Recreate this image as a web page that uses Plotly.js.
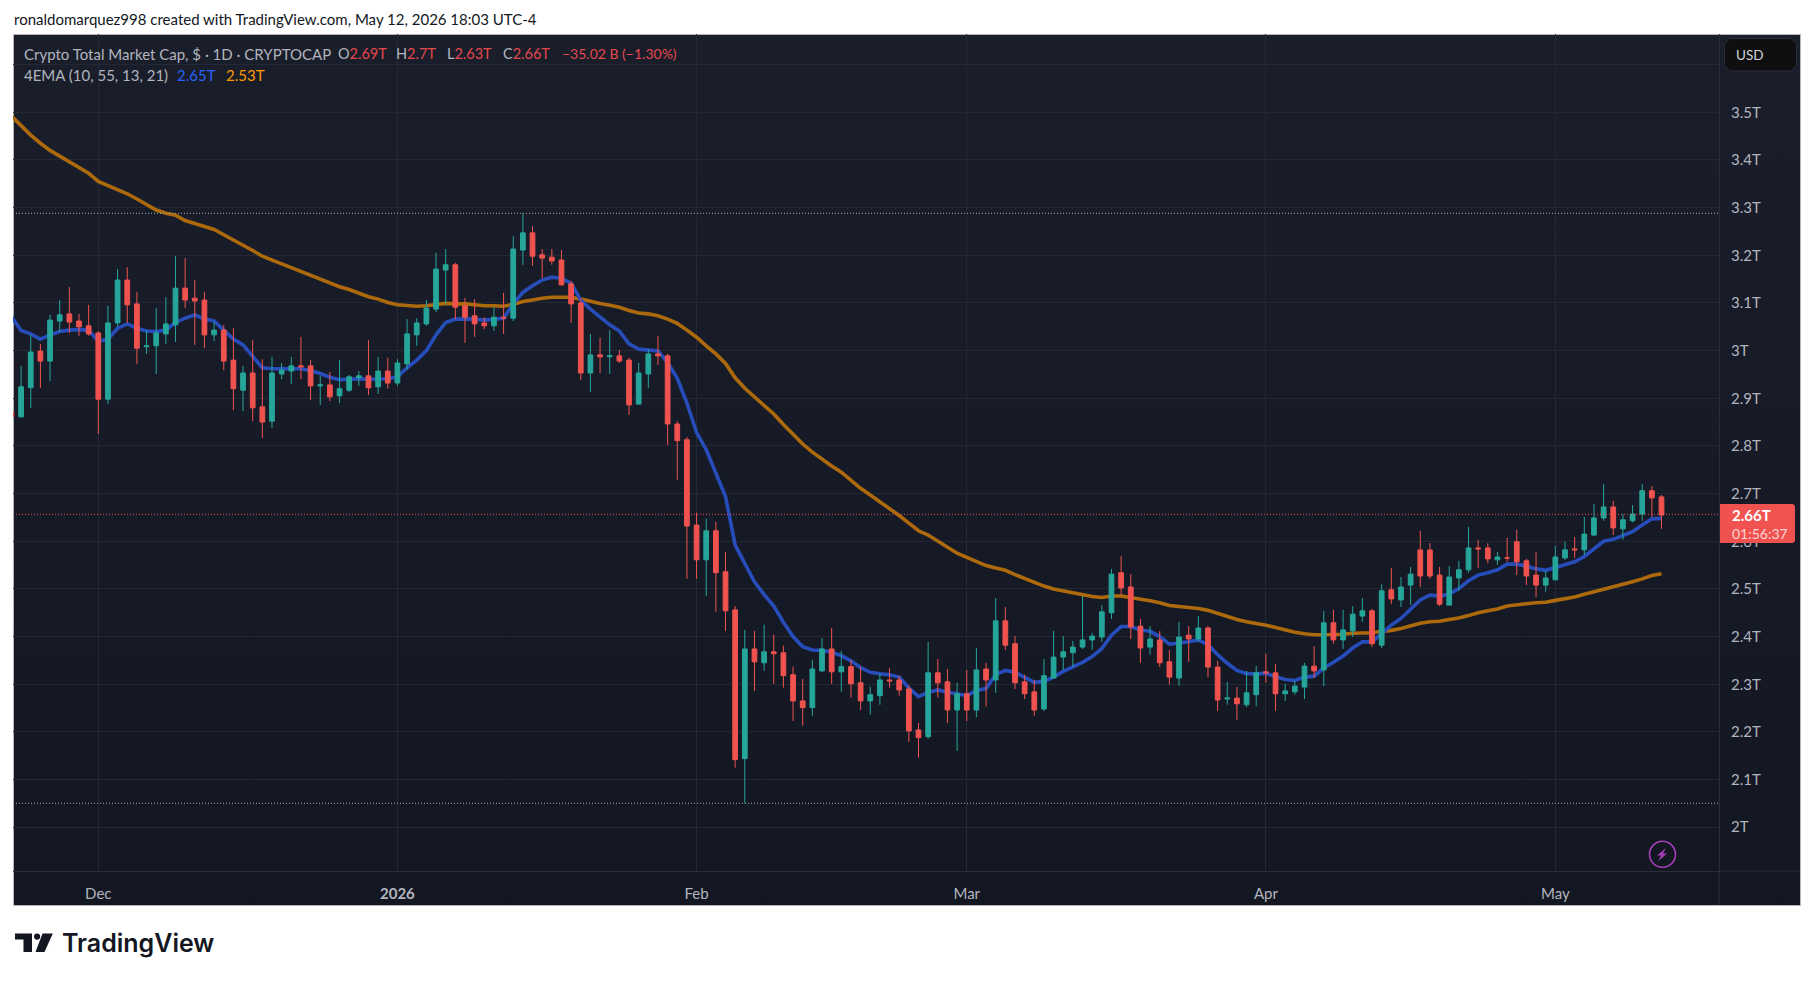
<!DOCTYPE html>
<html>
<head>
<meta charset="utf-8">
<script src="https://cdn.plot.ly/plotly-3.0.1.min.js"></script>
<style>
html,body{margin:0;padding:0;background:#fff;width:1814px;height:981px;overflow:hidden}
#bg{position:absolute;left:13px;top:34px;width:1788px;height:872px;box-sizing:border-box;border:1px solid #b4b5b8;background:linear-gradient(#1a1e2b,#131722)}
#chart{position:absolute;left:0;top:0;width:1814px;height:981px}
</style>
</head>
<body>
<div id="bg"></div>
<div id="chart"></div>
<script>
const firstDay = '2025-11-22';
const opens = [2.871,2.861,2.922,2.999,2.978,3.062,3.077,3.062,3.052,
3.037,2.898,3.058,3.148,3.098,3.008,3.010,3.035,3.054,3.131,3.110,3.106,3.033,3.043,2.980,2.917,2.953,2.882,2.852,2.951,2.957,2.968,2.968,2.926,2.928,2.905,2.917,2.943,2.947,2.924,2.957,
2.932,2.972,3.033,3.056,3.087,3.169,3.180,3.094,3.073,3.058,3.052,3.070,3.068,3.211,3.247,3.201,3.196,3.190,3.140,3.100,2.953,2.991,2.987,2.989,2.980,2.888,2.951,2.993,2.989,2.846,2.813,
2.634,2.561,2.622,2.536,2.456,2.144,2.374,2.345,2.368,2.366,2.320,2.265,2.251,2.328,2.374,2.326,2.337,2.303,2.265,2.276,2.309,2.309,2.290,2.204,2.190,2.324,2.305,2.246,
2.280,2.246,2.332,2.309,2.433,2.385,2.305,2.284,2.248,2.313,2.357,2.366,2.378,2.393,2.399,2.450,2.534,2.504,2.422,2.378,2.393,2.347,2.313,2.403,2.395,2.418,2.336,2.269,2.271,2.257,2.278,
2.326,2.324,2.280,2.284,2.294,2.338,2.330,2.429,2.393,2.412,2.443,2.454,2.382,2.498,2.477,2.508,2.5817,2.5817,2.529,2.466,2.523,2.540,2.586,2.586,2.561,2.565,2.599,2.559,2.529,2.508,
2.519,2.565,2.584,2.582,2.613,2.649,2.672,2.626,2.643,2.657,2.706,2.693];
const highs = [2.878,2.968,3.033,3.014,3.075,3.106,3.133,3.077,3.096,
3.041,3.094,3.171,3.175,3.123,3.043,3.089,3.112,3.198,3.194,3.148,3.123,3.060,3.054,3.047,2.968,3.022,2.982,2.987,2.974,2.987,3.029,2.980,2.947,2.955,2.980,2.949,2.957,3.022,2.987,2.985,
2.982,3.066,3.068,3.106,3.205,3.213,3.184,3.110,3.108,3.070,3.091,3.121,3.240,3.288,3.261,3.213,3.213,3.211,3.146,3.110,3.035,3.027,3.043,3.001,2.985,2.974,3.003,3.031,2.993,2.852,2.819,
2.660,2.647,2.641,2.578,2.464,2.414,2.412,2.425,2.404,2.381,2.337,2.311,2.351,2.397,2.418,2.370,2.351,2.337,2.295,2.322,2.334,2.318,2.297,2.219,2.389,2.353,2.332,2.303,
2.330,2.376,2.345,2.481,2.462,2.401,2.320,2.309,2.353,2.412,2.401,2.391,2.485,2.408,2.466,2.542,2.569,2.531,2.437,2.422,2.412,2.372,2.431,2.422,2.443,2.422,2.349,2.305,2.294,2.328,2.338,
2.364,2.343,2.301,2.307,2.345,2.380,2.454,2.456,2.456,2.464,2.481,2.458,2.510,2.544,2.525,2.546,2.622,2.596,2.546,2.548,2.559,2.630,2.603,2.596,2.578,2.607,2.624,2.563,2.578,2.538,
2.590,2.599,2.609,2.651,2.678,2.720,2.685,2.657,2.676,2.720,2.716,2.697];
const lows = [2.857,2.859,2.880,2.922,2.936,3.039,3.037,3.031,3.031,
2.825,2.888,3.050,3.058,2.972,2.993,2.951,3.014,3.018,3.089,3.012,3.005,3.020,2.959,2.875,2.873,2.852,2.817,2.838,2.940,2.930,2.940,2.896,2.886,2.894,2.890,2.913,2.926,2.907,2.909,2.920,
2.926,2.959,3.010,3.052,3.081,3.096,3.066,3.016,3.029,3.045,3.041,3.035,3.062,3.180,3.178,3.152,3.180,3.136,3.058,2.938,2.913,2.953,2.951,2.974,2.865,2.886,2.922,2.970,2.802,2.729,2.521,
2.521,2.485,2.452,2.412,2.125,2.050,2.286,2.328,2.301,2.293,2.223,2.213,2.234,2.326,2.301,2.284,2.272,2.246,2.236,2.257,2.293,2.276,2.179,2.146,2.186,2.272,2.219,2.160,
2.223,2.231,2.253,2.282,2.372,2.290,2.269,2.234,2.244,2.313,2.330,2.336,2.374,2.372,2.389,2.437,2.487,2.395,2.345,2.362,2.336,2.299,2.297,2.347,2.389,2.315,2.244,2.257,2.225,2.252,2.254,
2.303,2.244,2.265,2.278,2.269,2.313,2.296,2.385,2.374,2.399,2.431,2.378,2.376,2.468,2.462,2.466,2.504,2.521,2.464,2.466,2.496,2.534,2.544,2.554,2.550,2.557,2.529,2.508,2.483,2.494,
2.519,2.561,2.565,2.571,2.611,2.643,2.613,2.603,2.640,2.643,2.651,2.626];
const closes = [2.861,2.924,2.997,2.978,3.064,3.075,3.060,3.050,3.035,
2.898,3.058,3.148,3.096,3.005,3.010,3.037,3.056,3.131,3.106,3.104,3.033,3.043,2.978,2.920,2.953,2.880,2.850,2.953,2.959,2.968,2.966,2.926,2.928,2.903,2.920,2.945,2.947,2.922,2.957,2.932,
2.974,3.035,3.058,3.089,3.171,3.180,3.091,3.070,3.056,3.052,3.070,3.068,3.213,3.247,3.198,3.194,3.188,3.138,3.098,2.953,2.991,2.987,2.989,2.978,2.886,2.953,2.993,2.989,2.846,2.811,2.632,
2.561,2.622,2.534,2.454,2.142,2.374,2.347,2.368,2.364,2.318,2.265,2.251,2.332,2.374,2.326,2.337,2.301,2.265,2.278,2.309,2.307,2.288,2.202,2.188,2.324,2.303,2.246,2.280,
2.246,2.330,2.309,2.433,2.382,2.303,2.280,2.246,2.318,2.357,2.368,2.378,2.393,2.401,2.452,2.531,2.502,2.420,2.376,2.395,2.345,2.315,2.399,2.395,2.418,2.336,2.267,2.271,2.259,2.282,2.324,
2.324,2.280,2.286,2.296,2.338,2.328,2.429,2.393,2.414,2.447,2.454,2.385,2.496,2.479,2.504,2.531,2.527,2.527,2.468,2.525,2.540,2.586,2.584,2.563,2.567,2.565,2.557,2.527,2.508,2.523,
2.567,2.582,2.582,2.615,2.649,2.672,2.628,2.645,2.657,2.706,2.691,2.655];
const ema10 = [3.071,3.042,3.035,3.024,3.033,3.040,3.043,3.044,3.043,
3.019,3.024,3.047,3.056,3.047,3.041,3.040,3.043,3.059,3.068,3.075,3.066,3.062,3.043,3.024,3.012,2.989,2.964,2.962,2.962,2.963,2.962,2.958,2.952,2.944,2.939,2.940,2.941,2.940,2.940,2.941,
2.945,2.964,2.980,3.000,3.033,3.059,3.066,3.066,3.066,3.064,3.066,3.068,3.098,3.122,3.136,3.148,3.154,3.152,3.141,3.106,3.087,3.070,3.054,3.041,3.014,3.003,3.001,2.999,2.975,2.942,2.890,
2.828,2.792,2.743,2.694,2.592,2.553,2.515,2.488,2.464,2.430,2.400,2.379,2.372,2.371,2.367,2.360,2.349,2.335,2.325,2.322,2.320,2.315,2.292,2.274,2.283,2.288,2.283,2.280,
2.276,2.287,2.291,2.320,2.329,2.325,2.315,2.304,2.306,2.315,2.327,2.336,2.346,2.358,2.375,2.403,2.421,2.421,2.414,2.411,2.400,2.384,2.386,2.389,2.393,2.383,2.362,2.344,2.329,2.322,2.322,
2.323,2.316,2.310,2.308,2.315,2.317,2.334,2.346,2.359,2.376,2.389,2.389,2.407,2.424,2.438,2.457,2.477,2.487,2.485,2.489,2.501,2.517,2.529,2.534,2.540,2.552,2.552,2.548,2.542,2.539,
2.545,2.552,2.557,2.568,2.585,2.600,2.604,2.611,2.620,2.634,2.647,2.648];
const ema55 = [3.492,3.471,3.452,3.435,3.420,3.408,3.396,3.384,3.372,
3.355,3.346,3.339,3.329,3.318,3.307,3.295,3.288,3.284,3.273,3.267,3.261,3.254,3.243,3.232,3.223,3.210,3.198,3.189,3.182,3.174,3.166,3.158,3.150,3.140,3.134,3.128,3.120,3.113,3.108,3.101,
3.096,3.094,3.093,3.094,3.096,3.099,3.098,3.098,3.096,3.094,3.094,3.093,3.097,3.103,3.106,3.110,3.112,3.112,3.112,3.108,3.103,3.099,3.095,3.091,3.084,3.079,3.077,3.073,3.066,3.057,3.043,
3.028,3.010,2.993,2.973,2.943,2.921,2.903,2.885,2.867,2.845,2.824,2.804,2.787,2.772,2.758,2.745,2.727,2.711,2.697,2.683,2.667,2.654,2.638,2.622,2.613,2.600,2.586,2.575,
2.566,2.557,2.549,2.544,2.539,2.530,2.522,2.513,2.506,2.500,2.496,2.492,2.487,2.484,2.482,2.485,2.485,2.482,2.479,2.475,2.471,2.465,2.463,2.461,2.459,2.455,2.448,2.442,2.436,2.431,2.428,
2.424,2.419,2.414,2.409,2.406,2.404,2.404,2.404,2.405,2.407,2.408,2.408,2.411,2.413,2.417,2.422,2.428,2.431,2.432,2.436,2.439,2.444,2.450,2.454,2.458,2.464,2.467,2.469,2.471,2.472,
2.476,2.480,2.483,2.489,2.494,2.500,2.504,2.509,2.515,2.521,2.528,2.532];
const yTickVals = [2,2.1,2.2,2.3,2.4,2.5,2.6,2.7,2.8,2.9,3,3.1,3.2,3.3,3.4,3.5,3.6];
const yTickText = ['2T','2.1T','2.2T','2.3T','2.4T','2.5T','2.6T','2.7T','2.8T','2.9T','3T','3.1T','3.2T','3.3T','3.4T','3.5T',''];
const xTickVals = ['2025-12-01','2026-01-01','2026-02-01','2026-03-01','2026-04-01','2026-05-01'];
const xTickText = ['Dec','<b>2026</b>','Feb','Mar','Apr','May'];
const periodHigh = 3.288, periodLow = 2.0503, lastPrice = 2.6566;

const dates = opens.map((_, i) => {
  const d = new Date(firstDay + 'T00:00:00Z');
  d.setUTCDate(d.getUTCDate() + i);
  return d.toISOString().slice(0, 10);
});

const FONT = 'Lato, "Noto Sans", sans-serif';
const UP = '#26a69a', DOWN = '#f0534f', TXT = '#b2b5be';
const PX0 = 13, PX1 = 1719, PY0 = 34, PY1 = 871;
const X = p => (p - PX0) / (PX1 - PX0);
const Y = p => (PY1 - p) / (PY1 - PY0);
const yRange = [1.9082, 3.6642];

function poly(points, close) {
  return points.map((p, i) => (i ? 'L' : 'M') + X(p[0]).toFixed(5) + ',' + Y(p[1]).toFixed(5)).join(' ') + (close ? ' Z' : '');
}
function label(x, y, text, size, color, extra) {
  return Object.assign({xref:'paper', yref:'paper', x:X(x), y:Y(y), text:text, showarrow:false, xanchor:'left', yanchor:'middle',
    borderpad:0, font:{family:FONT, size:size, color:color}}, extra || {});
}
const red = '#e5484d';
const annotations = [
  label(13, 19, 'ronaldomarquez998 created with TradingView.com, May 12, 2026 18:03 UTC-4', 15, '#131722'),
  label(23, 54, 'Crypto Total Market Cap, $ · 1D · CRYPTOCAP', 15, TXT),
  label(337, 54, `O<span style="color:${red}">2.69T</span>`, 14.5, TXT),
  label(395, 54, `H<span style="color:${red}">2.7T</span>`, 14.5, TXT),
  label(446, 54, `L<span style="color:${red}">2.63T</span>`, 14.5, TXT),
  label(502, 54, `C<span style="color:${red}">2.66T</span>`, 14.5, TXT),
  label(561, 54, '−35.02 B (−1.30%)', 14, red),
  label(23, 75, '4EMA (10, 55, 13, 21)', 15, TXT),
  label(176, 75, '2.65T', 15, '#2962ff'),
  label(225, 75, '2.53T', 15, '#ff9800'),
  label(1735, 55, 'USD', 13.5, '#d1d4dc'),
  label(1731, 514.5, '<b>2.66T</b>', 15, '#ffffff'),
  label(1731, 533, '01:56:37', 14, 'rgba(255,255,255,0.75)'),
  {xref:'paper', yref:'paper', x:X(61), y:Y(943), text:'TradingView', showarrow:false, xanchor:'left', yanchor:'middle', borderpad:0,
   font:{family:'Inter, sans-serif', size:25, color:'#131722', weight:600}}
];

const shapes = [
  {type:'line', xref:'paper', yref:'y', x0:0, x1:X(1718), y0:periodHigh, y1:periodHigh, layer:'above', line:{color:'#a9abb2', width:1, dash:'1px,2px'}},
  {type:'line', xref:'paper', yref:'y', x0:0, x1:X(1718), y0:periodLow, y1:periodLow, layer:'above', line:{color:'#a9abb2', width:1, dash:'1px,2px'}},
  {type:'line', xref:'paper', yref:'y', x0:0, x1:1, y0:lastPrice, y1:lastPrice, layer:'above', line:{color:'#f0534f', width:1, dash:'1px,2px'}},
  {type:'line', xref:'paper', yref:'paper', x0:X(1719), x1:X(1719), y0:Y(871), y1:Y(905), layer:'above', line:{color:'#2a2e39', width:1}},
  {type:'line', xref:'paper', yref:'paper', x0:1, x1:X(1800), y0:Y(871), y1:Y(871), layer:'above', line:{color:'#2a2e39', width:1}},
  // USD box
  {type:'path', xref:'paper', yref:'paper', layer:'above', fillcolor:'#0f0f0f', line:{color:'#2a2e39', width:1},
   path: poly([[1730,38.5],[1791,38.5],[1796.5,44],[1796.5,65.5],[1791,71],[1730,71],[1724.5,65.5],[1724.5,44]], true)},
  // price tag
  {type:'path', xref:'paper', yref:'paper', layer:'above', fillcolor:'#f0534f', line:{width:0},
   path: poly([[1720,504],[1793,504],[1795,506],[1795,541],[1793,543],[1720,543]], true)},
  // lightning badge
  {type:'circle', xref:'paper', yref:'paper', layer:'above', x0:X(1649.5), x1:X(1675.5), y0:Y(867.3), y1:Y(841.3), fillcolor:'#131722', line:{color:'#a63fb8', width:1.6}},
  {type:'path', xref:'paper', yref:'paper', layer:'above', fillcolor:'#a63fb8', line:{width:0},
   path: poly([[1666,848],[1657,855.5],[1661,855.5],[1658.5,861],[1667,853.5],[1663,853.5]], true)},
  // TradingView mark
  {type:'path', xref:'paper', yref:'paper', layer:'above', fillcolor:'#131722', line:{width:0},
   path: poly([[15,933.5],[32,933.5],[32,952],[23.5,952],[23.5,939.5],[15,939.5]], true)},
  {type:'circle', xref:'paper', yref:'paper', layer:'above', x0:X(34), x1:X(40.2), y0:Y(939.7), y1:Y(933.5), fillcolor:'#131722', line:{width:0}},
  {type:'path', xref:'paper', yref:'paper', layer:'above', fillcolor:'#131722', line:{width:0},
   path: poly([[42.5,933.5],[52.8,933.5],[44.5,952],[35.5,952]], true)}
];

const traces = [
  {type:'scatter', mode:'lines', x:dates, y:ema55, line:{color:'#ad6a0d', width:3.6}, hoverinfo:'skip', xaxis:'x', yaxis:'y'},
  {type:'scatter', mode:'lines', x:dates, y:ema10, line:{color:'#274dbb', width:3.6}, hoverinfo:'skip', xaxis:'x', yaxis:'y'},
  {type:'candlestick', x:dates, open:opens, high:highs, low:lows, close:closes, xaxis:'x', yaxis:'y2', whiskerwidth:0,
   increasing:{line:{color:UP, width:1}, fillcolor:UP}, decreasing:{line:{color:DOWN, width:1}, fillcolor:DOWN}, hoverinfo:'skip'}
];

const layout = {
  width:1814, height:981, showlegend:false, hovermode:false, dragmode:false,
  paper_bgcolor:'rgba(0,0,0,0)', plot_bgcolor:'rgba(0,0,0,0)',
  margin:{l:PX0, r:1814-PX1, t:PY0, b:981-PY1, pad:0, autoexpand:false},
  font:{family:FONT, size:13, color:TXT},
  xaxis:{type:'date', range:['2025-11-22 03:50','2026-05-17 23:00'], tickmode:'array', tickvals:xTickVals, ticktext:xTickText,
    showgrid:true, gridcolor:'#242834', gridwidth:1, zeroline:false, showline:true, linecolor:'#2a2e39', linewidth:1,
    ticks:'outside', ticklen:9, tickcolor:'rgba(0,0,0,0)', tickfont:{family:FONT, size:15, color:TXT}, rangeslider:{visible:false}, fixedrange:true},
  yaxis:{side:'right', range:yRange, tickmode:'array', tickvals:yTickVals, ticktext:yTickText,
    showgrid:true, gridcolor:'#242834', gridwidth:1, zeroline:false, showline:true, linecolor:'#2a2e39', linewidth:1,
    ticks:'outside', ticklen:8, tickcolor:'rgba(0,0,0,0)', tickfont:{family:FONT, size:15, color:TXT}, fixedrange:true},
  yaxis2:{overlaying:'y', side:'right', range:yRange, visible:false, fixedrange:true},
  shapes:shapes, annotations:annotations
};
Plotly.newPlot('chart', traces, layout, {staticPlot:true, displayModeBar:false});
</script>
</body>
</html>
